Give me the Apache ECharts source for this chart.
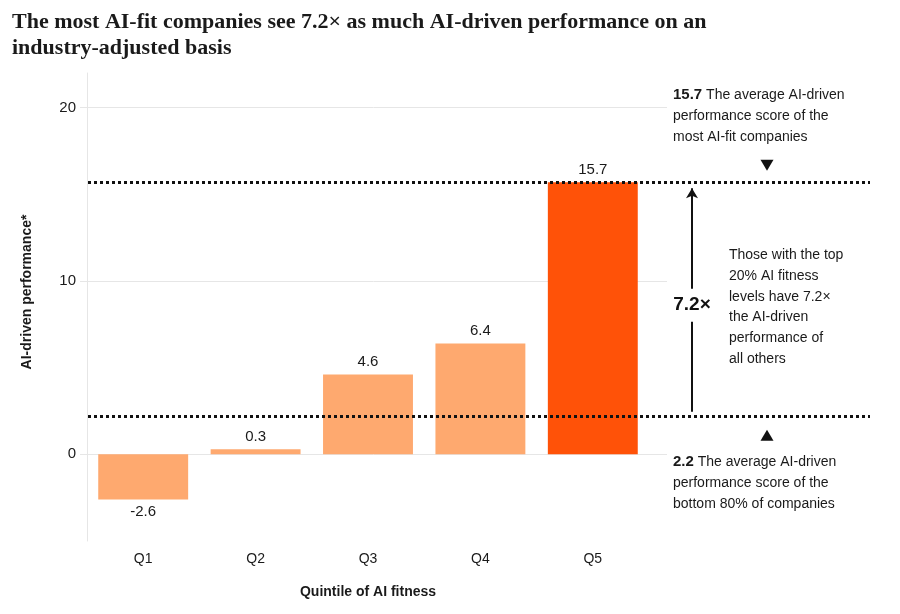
<!DOCTYPE html>
<html>
<head>
<meta charset="utf-8">
<script src="https://cdn.jsdelivr.net/npm/echarts@6/dist/echarts.min.js"></script>
<style>
  html, body { margin: 0; padding: 0; background: #fff; }
  #chart { width: 900px; height: 614px; }
</style>
</head>
<body>
<div id="chart"></div>
<script>
// data
const quintiles = ["Q1", "Q2", "Q3", "Q4", "Q5"];
const performance = [-2.6, 0.3, 4.6, 6.4, 15.7];
const highlighted = [false, false, false, false, true];
const yTicks = [0, 10, 20];
const topAvg = 15.7;    // most AI-fit companies
const bottomAvg = 2.2;  // bottom 80%
const multipleText = "7.2×";

const LIGHT = "#fea96f";
const DARK = "#ff5208";
const INK = "#1a1a1a";
const SANS = "Liberation Sans, Arial, sans-serif";

const chart = echarts.init(document.getElementById("chart"), null, { renderer: "canvas" });

// annotation grid uses a plain 0..782 x scale (grid width in px)
const arrowX = 604;
const markerX = 679;

const barData = performance.map((v, i) => ({
  value: v,
  itemStyle: { color: highlighted[i] ? DARK : LIGHT },
  label: v < 0 ? { position: "bottom" } : undefined,
}));

chart.setOption({
  animation: false,
  title: {
    text: "The most AI-fit companies see 7.2× as much AI-driven performance on an\nindustry-adjusted basis",
    left: 7,
    top: 4,
    textStyle: {
      fontFamily: "Liberation Serif, serif",
      fontWeight: "bold",
      fontSize: 22,
      lineHeight: 26,
      color: INK,
    },
  },
  grid: [
    { left: 80, right: 233, top: 73, bottom: 73 },
    { left: 87, right: 251, top: 73, bottom: 73 },
    { left: 88, right: 30, top: 73, bottom: 73 },
  ],
  xAxis: [
    { gridIndex: 0, type: "value", show: false, min: 0, max: 1 },
    {
      gridIndex: 1,
      type: "category",
      data: quintiles,
      axisLine: { show: false },
      axisTick: { show: false },
      axisLabel: { fontSize: 14, color: INK, fontFamily: SANS, margin: 11 },
      name: "Quintile of AI fitness",
      nameLocation: "middle",
      nameGap: 44,
      nameTextStyle: { fontSize: 14, fontWeight: "bold", color: INK, fontFamily: SANS },
    },
    { gridIndex: 2, type: "value", show: false, min: 0, max: 782 },
  ],
  yAxis: [
    {
      gridIndex: 0,
      type: "value",
      min: -5,
      max: 22,
      axisLine: { show: false },
      axisTick: { show: false, customValues: yTicks },
      axisLabel: { customValues: yTicks, fontSize: 15, color: INK, fontFamily: SANS, margin: 4 },
      splitLine: { show: true, lineStyle: { color: "#e6e6e6", width: 1 } },
    },
    {
      gridIndex: 1,
      type: "value",
      min: -5,
      max: 22,
      axisLine: { show: true, lineStyle: { color: "#e6e6e6", width: 1 } },
      axisTick: { show: false },
      axisLabel: { show: false },
      splitLine: { show: false },
    },
    { gridIndex: 2, type: "value", min: -5, max: 22, show: false },
  ],
  series: [
    {
      name: "AI-driven performance",
      type: "bar",
      xAxisIndex: 1,
      yAxisIndex: 1,
      barWidth: "80%",
      data: barData,
      label: {
        show: true,
        position: "top",
        distance: 5,
        fontSize: 15,
        color: INK,
        fontFamily: SANS,
      },
      z: 2,
    },
    {
      name: "markers",
      type: "scatter",
      xAxisIndex: 2,
      yAxisIndex: 2,
      silent: true,
      symbol: "triangle",
      symbolSize: [13, 11],
      itemStyle: { color: "#111", opacity: 1 },
      data: [
        { value: [markerX, topAvg], symbolRotate: 180, symbolOffset: [0, -17] },
        { value: [markerX, bottomAvg], symbolOffset: [0, 19] },
      ],
      markLine: {
        silent: true,
        symbol: "none",
        label: { show: false },
        lineStyle: { color: "#111", type: [3, 3], width: 3, opacity: 1 },
        data: [
          { yAxis: topAvg },
          { yAxis: bottomAvg },
          [
            { coord: [arrowX, bottomAvg + 0.25], symbol: "none" },
            {
              coord: [arrowX, topAvg - 0.35],
              symbol: "arrow",
              symbolSize: [9, 10],
              lineStyle: { type: "solid", width: 2, color: "#111" },
            },
          ],
        ],
      },
      z: 3,
    },
    {
      name: "multiple",
      type: "scatter",
      xAxisIndex: 2,
      yAxisIndex: 2,
      silent: true,
      symbolSize: 0,
      itemStyle: { opacity: 1 },
      data: [[arrowX, (topAvg + bottomAvg) / 2]],
      label: {
        show: true,
        position: "inside",
        offset: [0, 6],
        formatter: multipleText,
        fontSize: 19,
        fontWeight: "bold",
        color: "#111",
        fontFamily: SANS,
        backgroundColor: "#fff",
        padding: [7, 2],
      },
      z: 10,
    },
  ],
  graphic: [
    {
      type: "text",
      x: 27,
      y: 292,
      rotation: Math.PI / 2,
      style: {
        text: "AI-driven performance*",
        fontFamily: SANS,
        fontSize: 14,
        fontWeight: "bold",
        fill: INK,
        align: "center",
        verticalAlign: "middle",
      },
    },
    {
      type: "text",
      x: 673,
      y: 85,
      style: {
        text: "{b|15.7} The average AI-driven\nperformance score of the\nmost AI-fit companies",
        fontFamily: SANS,
        fontSize: 14,
        lineHeight: 20.7,
        fill: INK,
        rich: { b: { fontWeight: "bold", fontSize: 15, fontFamily: SANS, lineHeight: 20.7, fill: INK } },
      },
    },
    {
      type: "text",
      x: 729,
      y: 245,
      style: {
        text: "Those with the top\n20% AI fitness\nlevels have 7.2×\nthe AI-driven\nperformance of\nall others",
        fontFamily: SANS,
        fontSize: 14,
        lineHeight: 20.7,
        fill: INK,
      },
    },
    {
      type: "text",
      x: 673,
      y: 452,
      style: {
        text: "{b|2.2} The average AI-driven\nperformance score of the\nbottom 80% of companies",
        fontFamily: SANS,
        fontSize: 14,
        lineHeight: 20.7,
        fill: INK,
        rich: { b: { fontWeight: "bold", fontSize: 15, fontFamily: SANS, lineHeight: 20.7, fill: INK } },
      },
    },
  ],
});
</script>
</body>
</html>
